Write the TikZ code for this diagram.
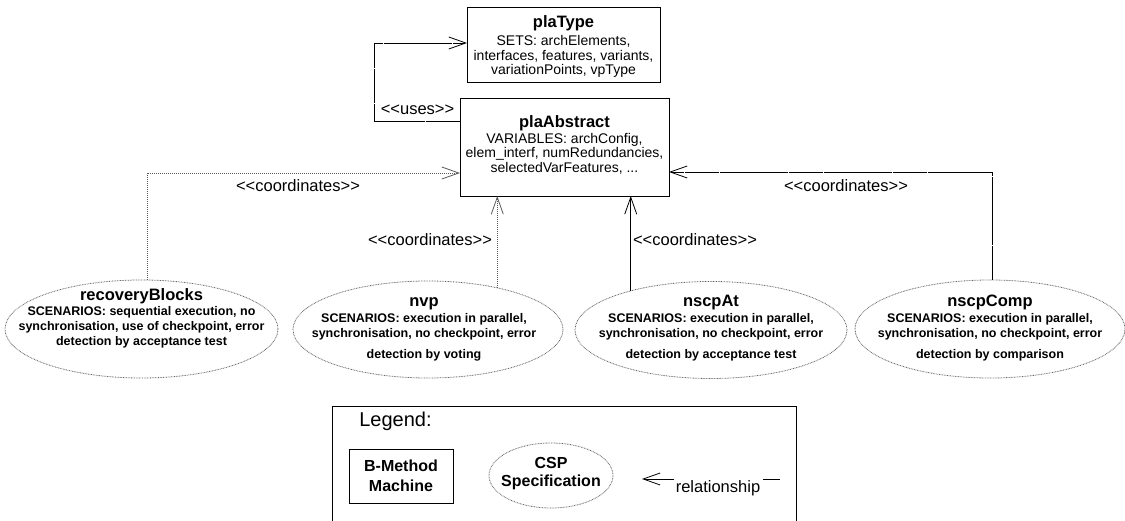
\documentclass[tikz,border=0pt]{standalone}
\usepackage{fontspec}
\setmainfont{Liberation Sans}
\usetikzlibrary{arrows.meta,shapes.geometric}
\newcommand{\ttlfont}{\fontsize{16.5}{15}\selectfont\bfseries}
\newcommand{\stereo}[1]{<\kern0pt<#1>\kern0pt>}
\begin{document}
\begin{tikzpicture}[x=1pt,y=-1pt,
  every node/.style={inner sep=0pt, outer sep=0pt},
  mbox/.style={draw=black, line width=0.9pt, rectangle},
  scen/.style={draw=black!60, dash pattern=on 0.8pt off 0.8pt, line width=0.8pt, ellipse},
  boxtext/.style={align=center, font=\fontsize{14}{14.5}\selectfont},
  scentext/.style={align=center, font=\fontsize{12.5}{15}\selectfont\bfseries},
  lbl/.style={font=\fontsize{16.5}{16.5}\selectfont},
  legbold/.style={align=center, font=\fontsize{16}{20}\selectfont\bfseries},
  tip/.style={-{Straight Barb[length=17pt,width=12pt]}},
  solidc/.style={draw=black, line width=0.8pt},
  dashc/.style={draw=black, line width=0.8pt, dash pattern=on 34pt off 0.7pt},
  dotc/.style={draw=black!65, line width=0.8pt, dash pattern=on 1pt off 1pt}
]
\useasboundingbox (0,0) rectangle (1125,521);

% B-Method machines
\node[mbox, minimum width=193pt, minimum height=75pt] (plaType) at (563.5,44.5) {};
\node[boxtext, anchor=north] (plaTypeT) at (563.5,15.2)
  {{\ttlfont\vphantom{Ah}plaType}\\[4pt] SETS: archElements,\\ interfaces, features, variants,\\ variationPoints, vpType};

\node[mbox, minimum width=209pt, minimum height=98pt] (plaAbstract) at (564.5,147) {};
\node[boxtext, anchor=north] (plaAbstractT) at (564.5,115.2)
  {{\ttlfont\vphantom{Ah}plaAbstract}\\[1.5pt] VARIABLES: archConfig,\\ elem\_interf, numRedundancies,\\ selectedVarFeatures, ...};

% CSP specifications
\node[scen, minimum width=273pt, minimum height=98pt] (rb) at (141.5,329) {};
\node[scentext, anchor=north] (rbT) at (141.5,288.5)
  {{\ttlfont\vphantom{Ah}recoveryBlocks}\\ SCENARIOS: sequential execution, no\\ synchronisation, use of checkpoint, error\\ detection by acceptance test};

\node[scen, minimum width=270pt, minimum height=97pt] (nvp) at (428,329.5) {};
\node[scentext, anchor=north] (nvpT) at (424,294.5)
  {{\ttlfont\vphantom{Ah}nvp}\\[1pt] SCENARIOS: execution in parallel,\\ synchronisation, no checkpoint, error\\[6pt] detection by voting};

\node[scen, minimum width=272pt, minimum height=97pt] (nscpAt) at (711,330) {};
\node[scentext, anchor=north] (nscpAtT) at (711,294.5)
  {{\ttlfont\vphantom{Ah}nscpAt}\\[1pt] SCENARIOS: execution in parallel,\\ synchronisation, no checkpoint, error\\[6pt] detection by acceptance test};

\node[scen, minimum width=270pt, minimum height=98pt] (nscpComp) at (990,329) {};
\node[scentext, anchor=north] (nscpCompT) at (990,294.5)
  {{\ttlfont\vphantom{Ah}nscpComp}\\[1pt] SCENARIOS: execution in parallel,\\ synchronisation, no checkpoint, error\\[6pt] detection by comparison};

% connectors
\draw[dashc, tip] ([yshift=26pt]plaAbstract.west) -- ++(-86,0) |- ([yshift=1.5pt]plaType.west);
\node[lbl] (usesL) at (417.5,110) {\stereo{uses}};

\draw[dotc, tip] (rb.83.59) |- ([yshift=-26pt]plaAbstract.west);
\node[lbl] (rbL) at (298,186) {\stereo{coordinates}};

\draw[dotc, tip] (nvp.31.6) -- (nvp.31.6 |- plaAbstract.south);
\node[lbl] (nvpL) at (430,240) {\stereo{coordinates}};

\draw[solidc, tip] (nscpAt.154.7) -- (nscpAt.154.7 |- plaAbstract.south);
\node[lbl] (nscpAtL) at (695,240) {\stereo{coordinates}};

\draw[dashc, tip] (nscpComp.87.66) |- ([yshift=-25pt]plaAbstract.east);
\node[lbl] (nscpCompL) at (846,186) {\stereo{coordinates}};

% legend
\draw[draw=black, line width=0.9pt] (332,521) -- (332,406) -- (796,406) -- (796,521);
\node[font=\fontsize{20}{20}\selectfont] (legendT) at (395.5,421) {Legend:};
\node[mbox, minimum width=104pt, minimum height=54pt] (bm) at (401,476) {};
\node[legbold] (bmT) at (401,476) {B-Method\\Machine};
\node[scen, minimum width=124pt, minimum height=65pt] (csp) at (551,475.5) {};
\node[legbold, align=center, font=\fontsize{16}{18}\selectfont\bfseries] (cspT) at (551,474) {CSP\\Specification};
\coordinate (relTip) at (642,479);
\coordinate (relA) at (674,479);
\coordinate (relB) at (763,479);
\coordinate (relEnd) at (780,479);
\draw[solidc, tip] (relA) -- (relTip);
\draw[solidc] (relEnd) -- (relB);
\node[lbl] (relT) at (718,488) {relationship};
\end{tikzpicture}
\end{document}
